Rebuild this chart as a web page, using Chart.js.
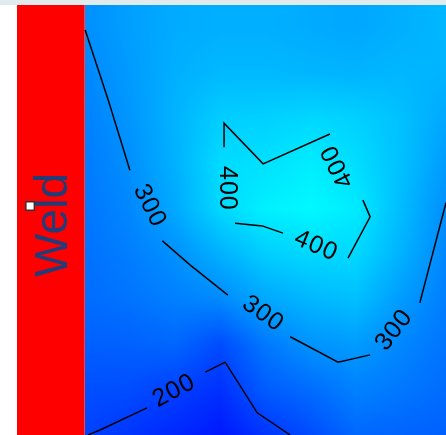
<!DOCTYPE html>
<html>
<head>
<meta charset="utf-8">
<script src="https://cdn.jsdelivr.net/npm/chart.js@4"></script>
<style>
  html, body { margin: 0; padding: 0; background: #fff; }
  canvas { display: block; }
</style>
</head>
<body>
<canvas id="hardnessMap" width="446" height="435"></canvas>
<script>
// Hardness map next to the weld (distance units, HV values)
const gridX = [0, 1, 2, 3, 4, 5, 6, 7, 8];
const gridY = [0, 1, 2, 3, 4, 5, 6, 7, 8, 9];
// rows from bottom (y = 0) to top (y = 9)
const hardness = [
    [203, 185, 170, 150, 185, 215, 250, 245, 240],
    [218, 216, 200, 180, 235, 255, 282, 270, 255],
    [240, 242, 248, 215, 270, 305, 315, 290, 265],
    [255, 265, 280, 292, 330, 350, 360, 315, 278],
    [262, 278, 302, 342, 378, 392, 392, 344, 288],
    [268, 290, 332, 392, 422, 432, 415, 357, 298],
    [274, 300, 342, 395, 402, 418, 398, 362, 315],
    [282, 308, 345, 378, 382, 390, 382, 362, 330],
    [290, 315, 340, 352, 352, 348, 345, 350, 345],
    [300, 320, 335, 340, 340, 335, 330, 340, 350]
];
const colorMin = 120;
const colorMax = 440;

// weld zone and measuring point
const weldRange = [-1.5, 0];
const weldLabel = 'Weld';
const startPoint = [{ x: -1.21, y: 5.06 }];

const contour200 = [
    [[0.07, 0], [0.34, 0.11], [1.38, 0.60]],
    [[2.67, 1.39], [3.11, 1.61], [3.82, 0.49], [4.55, 0]]
];
const contour300 = [
    [[0.01, 8.95], [0.52, 7.40], [1.00, 5.85]],
    [[1.72, 4.29], [2.33, 3.76], [3.17, 3.09]],
    [[4.55, 2.17], [5.61, 1.61], [6.32, 1.77]],
    [[7.42, 2.92], [8.0, 5.13]]
];
const contour400 = [
    [[3.085, 6.36], [3.085, 6.89], [3.95, 5.99], [5.43, 6.65]],
    [[6.16, 5.19], [6.32, 4.82], [5.83, 3.91]],
    [[4.39, 4.46], [3.93, 4.62], [3.33, 4.68]]
];
const contourLabels = [
    { text: '200', x: 1.96, y: 0.99, angle: -28 },
    { text: '300', x: 1.45, y: 5.08, angle: 63 },
    { text: '300', x: 3.95, y: 2.70, angle: 35 },
    { text: '300', x: 6.83, y: 2.32, angle: -52 },
    { text: '400', x: 5.59, y: 5.92, angle: -117 },
    { text: '400', x: 5.12, y: 4.20, angle: 23 },
    { text: '400', x: 3.17, y: 5.46, angle: 90 }
];

function valueAt(xv, yv) {
    const cx = Math.min(Math.max(xv, gridX[0]), gridX[gridX.length - 1]);
    const cy = Math.min(Math.max(yv, gridY[0]), gridY[gridY.length - 1]);
    const i = Math.min(Math.floor(cx - gridX[0]), gridX.length - 2);
    const j = Math.min(Math.floor(cy - gridY[0]), gridY.length - 2);
    const tx = (cx - gridX[i]) / (gridX[i + 1] - gridX[i]);
    const ty = (cy - gridY[j]) / (gridY[j + 1] - gridY[j]);
    const a = hardness[j][i], b = hardness[j][i + 1];
    const c = hardness[j + 1][i], d = hardness[j + 1][i + 1];
    return (a * (1 - tx) + b * tx) * (1 - ty) + (c * (1 - tx) + d * tx) * ty;
}

const mapPlugin = {
    id: 'hardnessField',
    beforeDraw(chart) {
        const ctx = chart.ctx;
        ctx.save();
        ctx.fillStyle = '#ffffff';
        ctx.fillRect(0, 0, chart.width, chart.height);
        ctx.fillStyle = '#e1ebee';
        ctx.fillRect(0, 0, chart.width, chart.chartArea.top);
        ctx.restore();
    },
    beforeDatasetsDraw(chart) {
        const ctx = chart.ctx;
        const xs = chart.scales.x, ys = chart.scales.y;
        const area = chart.chartArea;

        // colour field
        const px0 = Math.round(xs.getPixelForValue(gridX[0]));
        const px1 = Math.round(area.right);
        const py0 = Math.round(area.top), py1 = Math.round(area.bottom);
        const w = px1 - px0, h = py1 - py0;
        const img = ctx.createImageData(w, h);
        for (let py = 0; py < h; py++) {
            const yv = ys.getValueForPixel(py0 + py + 0.5);
            for (let px = 0; px < w; px++) {
                const xv = xs.getValueForPixel(px0 + px + 0.5);
                const v = valueAt(xv, yv);
                const t = Math.min(Math.max((v - colorMin) / (colorMax - colorMin), 0), 1);
                const k = (py * w + px) * 4;
                img.data[k] = 0;
                img.data[k + 1] = Math.round(255 * t);
                img.data[k + 2] = 255;
                img.data[k + 3] = 255;
            }
        }
        ctx.putImageData(img, px0, py0);

        // weld zone
        const wx0 = xs.getPixelForValue(weldRange[0]);
        const wx1 = xs.getPixelForValue(weldRange[1]);
        ctx.save();
        ctx.fillStyle = '#ff0000';
        ctx.fillRect(wx0, area.top, wx1 - wx0, area.bottom - area.top);
        ctx.translate((wx0 + wx1) / 2 + 16, (area.top + area.bottom) / 2 + 5);
        ctx.rotate(-Math.PI / 2);
        ctx.fillStyle = '#233c78';
        ctx.font = '46px "Liberation Sans", Arial, sans-serif';
        ctx.textAlign = 'center';
        ctx.textBaseline = 'alphabetic';
        ctx.fillText(weldLabel, 0, 0);
        ctx.restore();
    },
    afterDatasetsDraw(chart) {
        const ctx = chart.ctx;
        const xs = chart.scales.x, ys = chart.scales.y;
        ctx.save();
        ctx.fillStyle = '#000000';
        ctx.font = '25px "Liberation Sans", Arial, sans-serif';
        ctx.textAlign = 'center';
        ctx.textBaseline = 'middle';
        ctx.letterSpacing = '1px';
        contourLabels.forEach(l => {
            ctx.save();
            ctx.translate(xs.getPixelForValue(l.x), ys.getPixelForValue(l.y));
            ctx.rotate(l.angle * Math.PI / 180);
            ctx.fillText(l.text, 0.5, 1);
            ctx.restore();
        });
        ctx.restore();
    }
};

function contourSets(segments) {
    return segments.map(seg => ({
        type: 'line',
        data: seg.map(p => ({ x: p[0], y: p[1] })),
        borderColor: '#000000',
        borderWidth: 1.5,
        pointRadius: 0,
        fill: false,
        tension: 0
    }));
}

new Chart(document.getElementById('hardnessMap'), {
    type: 'scatter',
    data: {
        datasets: [
            ...contourSets(contour200),
            ...contourSets(contour300),
            ...contourSets(contour400),
            {
                data: startPoint,
                pointStyle: 'rect',
                pointRadius: 6,
                backgroundColor: '#ffffff',
                borderColor: '#333333',
                borderWidth: 1.5
            }
        ]
    },
    options: {
        responsive: false,
        animation: false,
        devicePixelRatio: 1,
        layout: { autoPadding: false, padding: { left: 17, top: 5, right: 0, bottom: 0 } },
        plugins: { legend: { display: false }, tooltip: { enabled: false } },
        scales: {
            x: { type: 'linear', min: -1.5, max: 8, display: false },
            y: { type: 'linear', min: 0, max: 9.5, display: false }
        }
    },
    plugins: [mapPlugin]
});
</script>
</body>
</html>
